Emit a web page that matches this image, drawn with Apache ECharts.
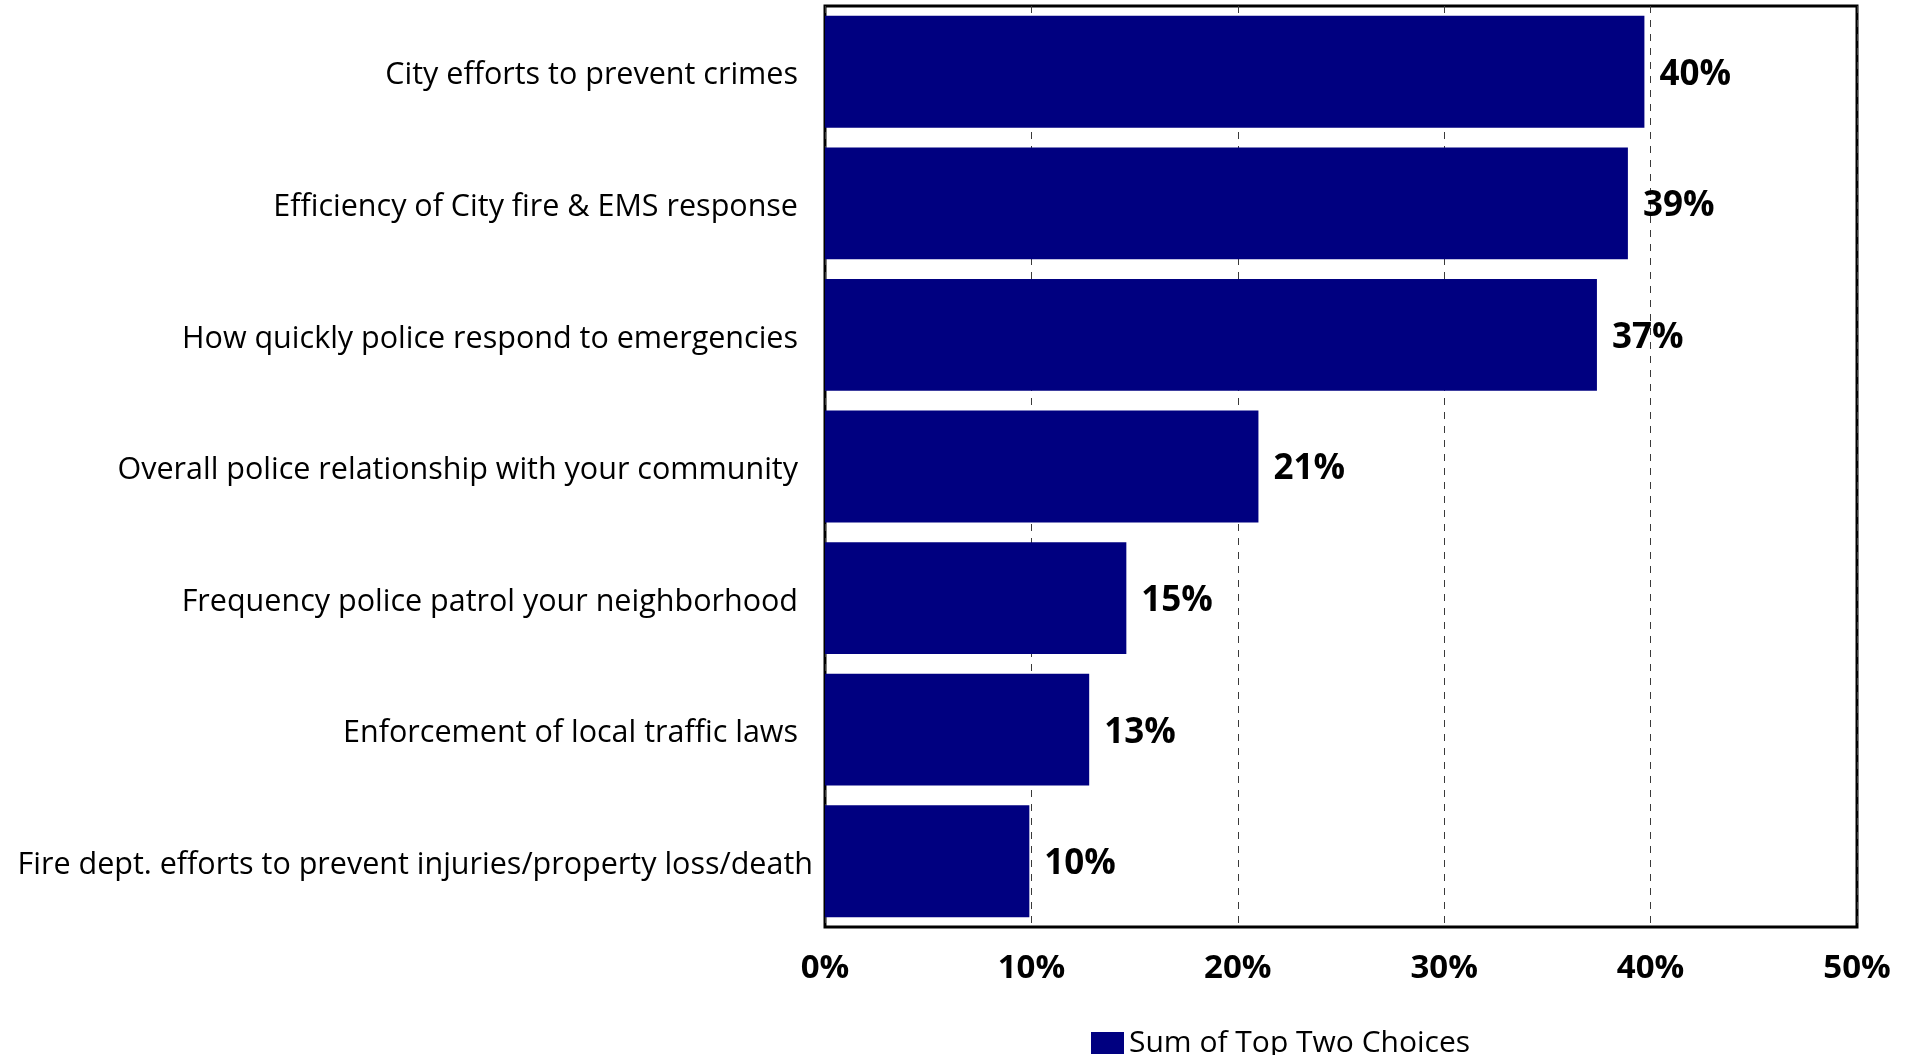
<!DOCTYPE html>
<html>
<head>
<meta charset="utf-8">
<title>Sum of Top Two Choices</title>
<script src="https://cdn.jsdelivr.net/npm/echarts@6/dist/echarts.min.js"></script>
<style>
  html, body { margin: 0; padding: 0; background: #fff; }
  #chart { width: 1911px; height: 1055px; }
</style>
</head>
<body>
<div id="chart"></div>
<script>
// Survey items, listed top to bottom
const categories = [
  'City efforts to prevent crimes',
  'Efficiency of City fire & EMS response',
  'How quickly police respond to emergencies',
  'Overall police relationship with your community',
  'Frequency police patrol your neighborhood',
  'Enforcement of local traffic laws',
  'Fire dept. efforts to prevent injuries/property loss/death'
];

// Percent of respondents naming the item as one of their top two choices
const topTwoShare = [39.7, 38.9, 37.4, 21.0, 14.6, 12.8, 9.9];

const seriesName = 'Sum of Top Two Choices';

// Value axis ticks (percent)
const axisMin = 0;
const axisMax = 50;
const axisStep = 10;

const FONT = '"Open Sans", "Noto Sans", sans-serif';
const lastIndex = categories.length - 1;

const chart = echarts.init(document.getElementById('chart'), null, { renderer: 'canvas' });

chart.setOption({
  backgroundColor: '#ffffff',
  animation: false,
  grid: {
    left: 825,
    right: 54,
    top: 6,
    bottom: 128,
    show: true,
    borderColor: '#000000',
    borderWidth: 3,
    backgroundColor: 'transparent'
  },
  legend: {
    data: [{ name: seriesName, icon: 'rect' }],
    bottom: -8,
    left: 1086,
    itemWidth: 33,
    itemHeight: 22,
    textStyle: { fontFamily: FONT, fontSize: 30, color: '#000' }
  },
  xAxis: {
    type: 'value',
    min: axisMin,
    max: axisMax,
    interval: axisStep,
    axisLine: { show: false },
    axisTick: { show: false },
    splitLine: {
      show: true,
      lineStyle: { color: '#3a3a3a', width: 1, type: [7, 7] }
    },
    axisLabel: {
      formatter: '{value}%',
      margin: 25,
      fontFamily: FONT,
      fontSize: 33,
      fontWeight: 'bold',
      color: '#000'
    }
  },
  yAxis: {
    type: 'category',
    inverse: true,
    data: categories,
    axisLine: { show: false },
    axisTick: { show: false },
    splitLine: { show: false },
    axisLabel: {
      margin: 27,
      // the longest item label runs a little past the others toward the plot
      formatter: (value, index) => (index === lastIndex ? '{long|' : '{item|') + value + '}',
      rich: {
        item: {
          fontFamily: FONT, fontSize: 30.5, color: '#000',
          padding: [8, 0, 0, 0]
        },
        long: {
          fontFamily: FONT, fontSize: 30.5, color: '#000',
          padding: [8, -15, 0, 0]
        }
      }
    }
  },
  series: [{
    name: seriesName,
    type: 'bar',
    data: topTwoShare,
    barCategoryGap: '15%',
    itemStyle: { color: '#000080' },
    label: {
      show: true,
      position: 'right',
      distance: 15,
      offset: [0, 3],
      formatter: p => Math.round(p.value) + '%',
      fontFamily: FONT,
      fontSize: 35,
      fontWeight: 'bold',
      color: '#000'
    }
  }]
});
</script>
</body>
</html>
